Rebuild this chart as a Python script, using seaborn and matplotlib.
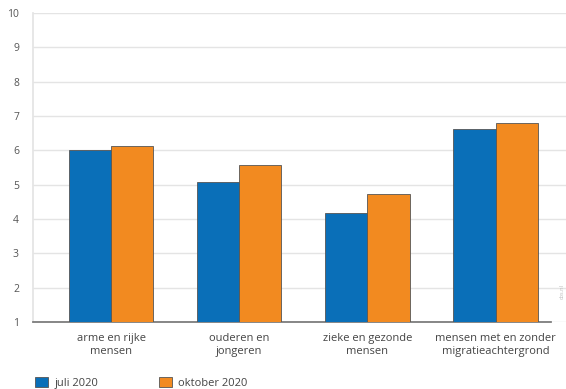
import pandas as pd
import seaborn as sns
import matplotlib.pyplot as plt
from matplotlib.patches import Patch

# data
groepen = ['arme en rijke\nmensen', 'ouderen en\njongeren',
           'zieke en gezonde\nmensen', 'mensen met en zonder\nmigratieachtergrond']
juli = [6.0, 5.08, 4.18, 6.62]
oktober = [6.13, 5.57, 4.73, 6.80]
reeksen = ['juli 2020', 'oktober 2020']
kleuren = ['#0a6fb8', '#f28a20']

df = pd.DataFrame({
    'groep': groepen * 2,
    'score': juli + oktober,
    'periode': [reeksen[0]] * 4 + [reeksen[1]] * 4,
})

sns.set_theme(style="white")
plt.rcParams['font.family'] = ['Open Sans', 'DejaVu Sans']

fig = plt.figure(figsize=(5.66, 3.89), dpi=100)
ax = fig.add_axes([0.058, 0.172, 0.942, 0.795])

sns.barplot(data=df, x='groep', y='score', hue='periode', palette=kleuren,
            saturation=1, width=0.66, edgecolor='#555555', linewidth=0.6,
            ax=ax, legend=False, zorder=3)

ax.set_ylim(1, 10)
ax.set_xlim(-0.61, 3.55)
ax.set_yticks(range(1, 11))
ax.grid(axis='y', color='#e4e4e4', linewidth=1, zorder=0)
ax.tick_params(axis='y', labelsize=7.5, colors='#555555', length=0, pad=10)
ax.tick_params(axis='x', labelsize=8, colors='#444444', length=0, pad=8)
ax.set_xlabel('')
ax.set_ylabel('')

for s in ['top', 'right']:
    ax.spines[s].set_visible(False)
ax.spines['left'].set_color('#e4e4e4')
ax.spines['bottom'].set_color('#777777')
ax.spines['bottom'].set_bounds(-0.61, 3.43)

fig.text(0.993, 0.25, 'cbs.nl', rotation=90, fontsize=4, color='#bbbbbb',
         ha='center', va='center')

handles = [Patch(facecolor=k, edgecolor='#555555', linewidth=0.6) for k in kleuren]
fig.legend(handles, reeksen, loc='lower left', bbox_to_anchor=(0.045, -0.025),
           ncol=2, frameon=False, fontsize=8, handlelength=1.1, handleheight=1.1,
           columnspacing=5.5, handletextpad=0.6, labelcolor='#444444')

fig.savefig('out.png', dpi=100)
